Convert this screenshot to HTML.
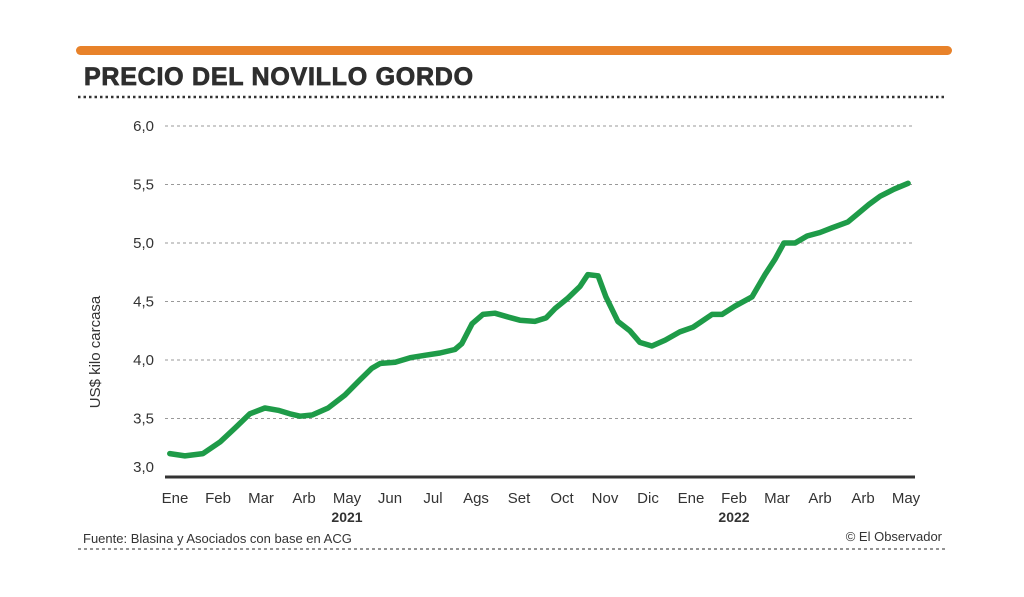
<!DOCTYPE html>
<html><head><meta charset="utf-8"><style>
body{margin:0;background:#fff;width:1024px;height:597px;overflow:hidden;font-family:"Liberation Sans","DejaVu Sans",sans-serif}
</style></head><body>
<svg width="1024" height="597" viewBox="0 0 1024 597" style="display:block">
<rect x="76" y="46" width="876" height="9" rx="4.5" fill="#e8822a"/>
<text x="84" y="85" font-size="25" font-weight="900" letter-spacing="0.75" fill="#2e2e2e" stroke="#2e2e2e" stroke-width="0.8" font-family="'Liberation Sans',sans-serif">PRECIO DEL NOVILLO GORDO</text>
<line x1="78" y1="97" x2="946" y2="97" stroke="#333" stroke-width="2.5" stroke-dasharray="2.5 3"/>
<g id="grid"></g><g id="yticks"></g><g id="xticks"></g>
<text transform="translate(100,352) rotate(-90)" text-anchor="middle" font-size="15" fill="#333">US$ kilo carcasa</text>
<text x="347" y="522" text-anchor="middle" font-size="14" font-weight="bold" fill="#333">2021</text>
<text x="734" y="522" text-anchor="middle" font-size="14" font-weight="bold" fill="#333">2022</text>
<path id="line" fill="none" stroke="#1e9b48" stroke-width="5.5" stroke-linejoin="round" stroke-linecap="round"/>
<text x="83" y="543" font-size="13" fill="#333">Fuente: Blasina y Asociados con base en ACG</text>
<text x="942" y="541" text-anchor="end" font-size="13" fill="#333">© El Observador</text>
<line x1="78" y1="549" x2="946" y2="549" stroke="#555" stroke-width="1.2" stroke-dasharray="3 3"/>
</svg>
<script>
const monthLabels=["Ene","Feb","Mar","Arb","May","Jun","Jul","Ags","Set","Oct","Nov","Dic","Ene","Feb","Mar","Arb","Arb","May"];
const yTicks=[3.0,3.5,4.0,4.5,5.0,5.5,6.0];
const t=[-0.12,0.23,0.65,1.05,1.40,1.74,2.09,2.40,2.67,2.91,3.19,3.56,3.95,4.30,4.58,4.77,5.12,5.47,5.81,6.16,6.51,6.67,6.91,7.16,7.44,7.72,8.02,8.37,8.63,8.84,9.14,9.42,9.60,9.84,10.02,10.30,10.58,10.81,11.09,11.40,11.74,12.05,12.21,12.49,12.72,13.02,13.42,13.72,13.95,14.16,14.42,14.70,15.00,15.28,15.65,15.88,16.14,16.40,16.72,17.05];
const values=[3.20,3.18,3.20,3.30,3.42,3.54,3.59,3.57,3.54,3.52,3.53,3.59,3.70,3.83,3.93,3.97,3.98,4.02,4.04,4.06,4.09,4.14,4.31,4.39,4.40,4.37,4.34,4.33,4.36,4.44,4.53,4.63,4.73,4.72,4.54,4.33,4.25,4.15,4.12,4.17,4.24,4.28,4.32,4.39,4.39,4.46,4.54,4.73,4.86,5.00,5.00,5.06,5.09,5.13,5.18,5.25,5.33,5.40,5.46,5.51];
const NS="http://www.w3.org/2000/svg";
const xS=m=>175+m*43, yS=v=>477-(v-3)*117;
const grid=document.getElementById('grid'),yt=document.getElementById('yticks'),xt=document.getElementById('xticks');
yTicks.forEach(v=>{
 const l=document.createElementNS(NS,'line');
 l.setAttribute('x1',165);l.setAttribute('x2',915);l.setAttribute('y1',yS(v));l.setAttribute('y2',yS(v));
 if(v===3){l.setAttribute('stroke','#333');l.setAttribute('stroke-width','3');}
 else{l.setAttribute('stroke','#999');l.setAttribute('stroke-width','1');l.setAttribute('stroke-dasharray','3 3');}
 
 
 grid.appendChild(l);
 const tx=document.createElementNS(NS,'text');
 tx.setAttribute('x',154);tx.setAttribute('y',yS(v)+(v===3?-5:5));tx.setAttribute('text-anchor','end');tx.setAttribute('font-size','15');tx.setAttribute('fill','#333');
 tx.textContent=v.toFixed(1).replace('.',',');
 
 
 yt.appendChild(tx);
});
monthLabels.forEach((m,i)=>{
 const tx=document.createElementNS(NS,'text');
 tx.setAttribute('x',xS(i));tx.setAttribute('y',503);tx.setAttribute('text-anchor','middle');tx.setAttribute('font-size','15');tx.setAttribute('fill','#333');
 tx.textContent=m;
 
 
 xt.appendChild(tx);
});
document.getElementById('line').setAttribute('d',t.map((m,i)=>(i?'L':'M')+xS(m).toFixed(1)+','+yS(values[i]).toFixed(1)).join(''));
</script>
</body></html>
